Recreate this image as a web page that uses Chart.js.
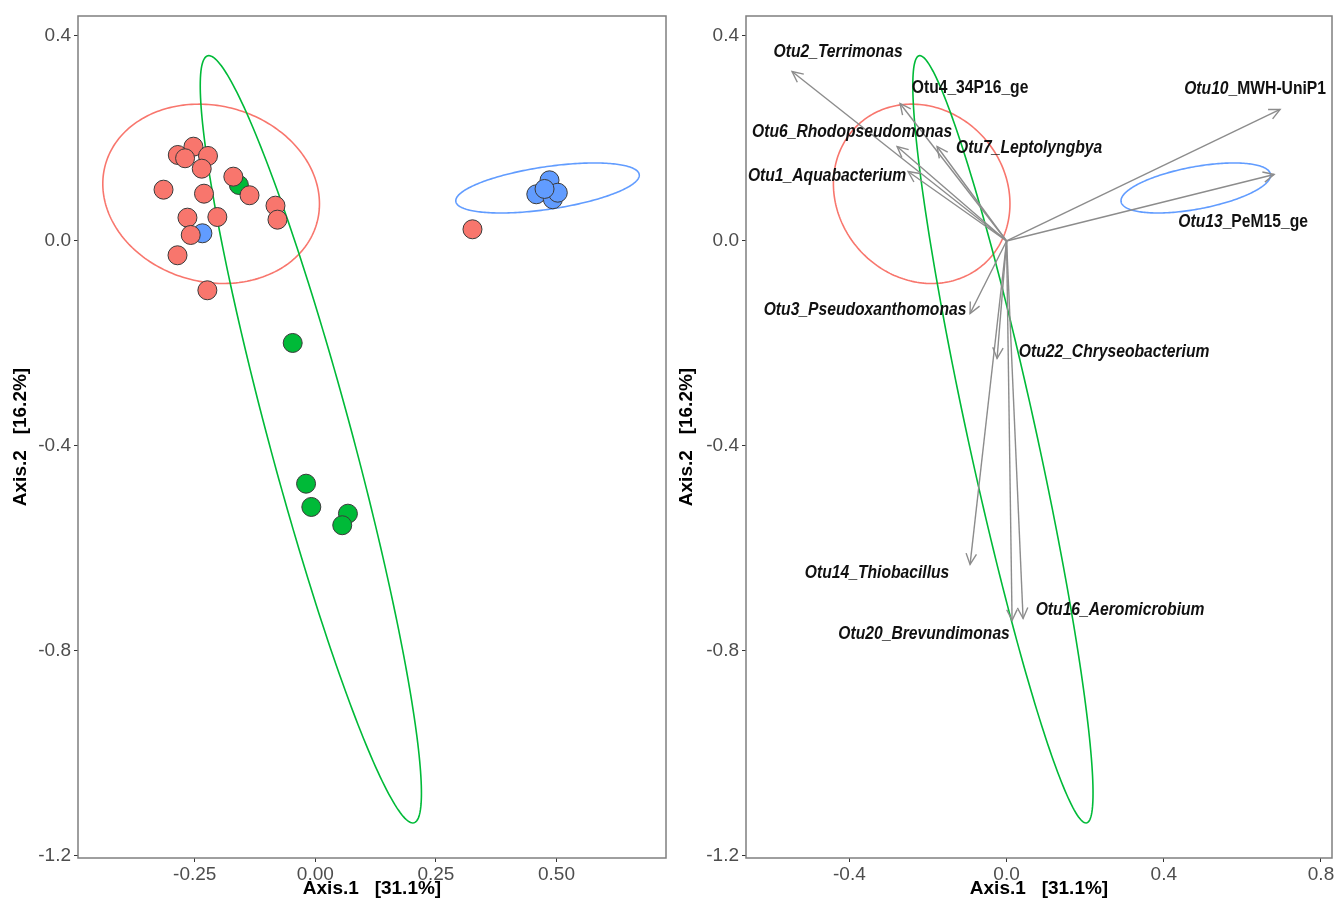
<!DOCTYPE html>
<html><head><meta charset="utf-8">
<script src="https://cdn.jsdelivr.net/npm/chart.js@4.4.1/dist/chart.umd.min.js"></script>
<style>
html,body{margin:0;padding:0;background:#fff;width:1334px;height:900px;overflow:hidden}
canvas{position:absolute;top:0}
#left{left:0}
#right{left:670px}
</style></head><body>
<canvas id="left" width="670" height="900"></canvas>
<canvas id="right" width="664" height="900"></canvas>
<script>
// ---------- data ----------
const groups = ['red', 'green', 'blue'];
const groupColors = ['#F8766D', '#00BA38', '#619CFF'];

const redX = [-0.2851,-0.2527,-0.2700,-0.2225,-0.2355,-0.1700,-0.3147,-0.2308,-0.1364,-0.0826,-0.0785,-0.2651,-0.2031,-0.2583,-0.2857,-0.2238,0.3258];
const redY = [0.1678,0.1840,0.1614,0.1659,0.1411,0.1255,0.1001,0.0923,0.0892,0.0689,0.0416,0.0455,0.0468,0.0117,-0.0279,-0.0962,0.0228];
const greenX = [-0.1585,-0.0469,-0.0192,-0.0083,0.0676,0.0558];
const greenY = [0.1093,-0.1990,-0.4736,-0.5190,-0.5321,-0.5547];
const blueX = [-0.2341,0.4855,0.4581,0.4924,0.5027,0.4752];
const blueY = [0.0150,0.1184,0.0911,0.0814,0.0942,0.1015];

// confidence ellipses (centre and two conjugate semi-axes, data units)
const ellCX = [-0.216, -0.0093, 0.4814];
const ellCY = [0.092, -0.387, 0.1034];
const ellAX = [0.2196, 0.2138, 0.1901];
const ellAY = [-0.0556, -0.7483, 0.0263];
const ellBX = [-0.0471, 0.0828, 0.0064];
const ellBY = [-0.1659, 0.0211, -0.0411];

// biplot arrows
const arrowNames = ['Otu2_Terrimonas','Otu4_34P16_ge','Otu10_MWH-UniP1','Otu6_Rhodopseudomonas','Otu7_Leptolyngbya','Otu1_Aquabacterium','Otu13_PeM15_ge','Otu3_Pseudoxanthomonas','Otu22_Chryseobacterium','Otu14_Thiobacillus','Otu16_Aeromicrobium','Otu20_Brevundimonas'];
const arrowX = [-0.5458,-0.2710,0.6959,-0.2786,-0.1768,-0.2506,0.6807,-0.0929,-0.0242,-0.0929,0.0420,0.0140];
const arrowY = [0.3307,0.2683,0.2566,0.1844,0.1844,0.1356,0.1298,-0.1415,-0.2293,-0.6312,-0.7366,-0.7405];
const labelX = [-0.4288,-0.0929,0.6323,-0.3931,0.0573,-0.4567,0.6018,-0.3601,0.2735,-0.3295,0.2888,-0.2099];
const labelY = [0.3678,0.2976,0.2956,0.2117,0.1805,0.1259,0.0361,-0.1356,-0.2176,-0.6488,-0.7210,-0.7678];
const italicLen = [99, 0, 5, 99, 99, 99, 5, 99, 99, 99, 99, 99];

const leftXTicks = [-0.25, 0, 0.25, 0.5];
const rightXTicks = [-0.4, 0, 0.4, 0.8];
const yTicks = [0.4, 0, -0.4, -0.8, -1.2];
const xTitle = 'Axis.1   [31.1%]';
const yTitle = 'Axis.2   [16.2%]';

// ---------- rendering ----------
const FONT = "'Liberation Sans', Arial, sans-serif";
Chart.defaults.font.family = FONT;

const ellipsePlugin = {
  id: 'ellipses',
  beforeDatasetsDraw(chart) {
    const xs = chart.scales.x, ys = chart.scales.y, ctx = chart.ctx;
    const px = v => xs.getPixelForValue(v), py = v => ys.getPixelForValue(v);
    ctx.save();
    for (let i = 0; i < ellCX.length; i++) {
      const ox = px(ellCX[i]), oy = py(ellCY[i]);
      const ax = px(ellCX[i] + ellAX[i]) - ox, ay = py(ellCY[i] + ellAY[i]) - oy;
      const bx = px(ellCX[i] + ellBX[i]) - ox, by = py(ellCY[i] + ellBY[i]) - oy;
      ctx.beginPath();
      for (let k = 0; k <= 240; k++) {
        const t = k / 240 * 2 * Math.PI;
        const x = ox + ax * Math.cos(t) + bx * Math.sin(t);
        const y = oy + ay * Math.cos(t) + by * Math.sin(t);
        if (k) ctx.lineTo(x, y); else ctx.moveTo(x, y);
      }
      ctx.closePath();
      ctx.strokeStyle = groupColors[i];
      ctx.lineWidth = 1.6;
      ctx.stroke();
    }
    ctx.restore();
  }
};

const framePlugin = {
  id: 'frame',
  afterDraw(chart) {
    const a = chart.chartArea, ctx = chart.ctx;
    ctx.save();
    ctx.strokeStyle = '#7f7f7f';
    ctx.lineWidth = 1.5;
    ctx.strokeRect(a.left, a.top, a.right - a.left, a.bottom - a.top);
    ctx.restore();
  }
};

const arrowPlugin = {
  id: 'arrowheads',
  afterDatasetsDraw(chart) {
    const ctx = chart.ctx;
    ctx.save();
    chart.data.datasets.forEach((ds, i) => {
      if (!ds.isArrow) return;
      const m = chart.getDatasetMeta(i);
      const p0 = m.data[0], p1 = m.data[1];
      const ang = Math.atan2(p1.y - p0.y, p1.x - p0.x);
      const L = 12, h = Math.PI / 7;
      ctx.beginPath();
      ctx.moveTo(p1.x - L * Math.cos(ang - h), p1.y - L * Math.sin(ang - h));
      ctx.lineTo(p1.x, p1.y);
      ctx.lineTo(p1.x - L * Math.cos(ang + h), p1.y - L * Math.sin(ang + h));
      ctx.strokeStyle = ds.borderColor;
      ctx.lineWidth = 1.4;
      ctx.stroke();
    });
    ctx.restore();
  }
};

const labelPlugin = {
  id: 'labels',
  afterDatasetsDraw(chart) {
    const xs = chart.scales.x, ys = chart.scales.y, ctx = chart.ctx;
    const sx = 0.87;
    ctx.save();
    ctx.fillStyle = '#111';
    ctx.textBaseline = 'middle';
    ctx.textAlign = 'left';
    const fI = "italic bold 18px " + FONT, fN = "bold 18px " + FONT;
    arrowNames.forEach((name, i) => {
      const segs = [];
      const n = Math.min(italicLen[i], name.length);
      if (n > 0) segs.push([name.slice(0, n), fI]);
      if (n < name.length) segs.push([name.slice(n), fN]);
      let w = 0;
      segs.forEach(s => { ctx.font = s[1]; w += ctx.measureText(s[0]).width; });
      let x = xs.getPixelForValue(labelX[i]) - w * sx / 2;
      const y = ys.getPixelForValue(labelY[i]);
      segs.forEach(s => {
        ctx.font = s[1];
        ctx.save();
        ctx.translate(x, y);
        ctx.scale(sx, 1);
        ctx.fillText(s[0], 0, 0);
        ctx.restore();
        x += ctx.measureText(s[0]).width * sx;
      });
    });
    ctx.restore();
  }
};

function pts(xa, ya) { return xa.map((v, i) => ({ x: v, y: ya[i] })); }

function makeOptions(xMin, xMax, xTicks, xDec, yWidth, padRight, yTitlePad) {
  return {
    responsive: false,
    devicePixelRatio: 1,
    animation: false,
    layout: { autoPadding: false, padding: { top: 16, right: padRight, left: 0, bottom: 0 } },
    plugins: { legend: { display: false }, tooltip: { enabled: false } },
    scales: {
      x: {
        type: 'linear', min: xMin, max: xMax,
        afterBuildTicks: s => { s.ticks = xTicks.map(v => ({ value: v })); },
        afterFit: s => { s.height = 42; s.paddingLeft = 0; s.paddingRight = 0; },
        ticks: { callback: v => Number(v).toFixed(xDec), color: '#4d4d4d', font: { size: 19 }, padding: 1, maxRotation: 0, autoSkip: false },
        grid: { drawOnChartArea: false, drawTicks: true, tickLength: 4, color: '#333', lineWidth: 1 },
        border: { display: false },
        title: { display: true, text: xTitle, color: '#000', font: { size: 19, weight: 'bold' }, padding: { top: 0, bottom: 0 } }
      },
      y: {
        type: 'linear', min: -1.204, max: 0.439,
        afterBuildTicks: s => { s.ticks = yTicks.map(v => ({ value: v })); },
        afterFit: s => { s.width = yWidth; s.paddingTop = 0; s.paddingBottom = 0; },
        ticks: { callback: v => Number(v).toFixed(1), color: '#4d4d4d', font: { size: 19 }, padding: 3, autoSkip: false },
        grid: { drawOnChartArea: false, drawTicks: true, tickLength: 4, color: '#333', lineWidth: 1 },
        border: { display: false },
        title: { display: true, text: yTitle, color: '#000', font: { size: 19, weight: 'bold' }, padding: { top: yTitlePad, bottom: 0 } }
      }
    }
  };
}

function pointSet(xa, ya, c) {
  return { data: pts(xa, ya), backgroundColor: c, borderColor: '#3a3a3a', borderWidth: 1, pointRadius: 9.5, pointHoverRadius: 9.5 };
}

new Chart(document.getElementById('left'), {
  type: 'scatter',
  data: { datasets: [
    pointSet(redX, redY, groupColors[0]),
    pointSet(greenX, greenY, groupColors[1]),
    pointSet(blueX, blueY, groupColors[2])
  ] },
  options: makeOptions(-0.492, 0.727, leftXTicks, 2, 78, 4, 9),
  plugins: [ellipsePlugin, framePlugin]
});

new Chart(document.getElementById('right'), {
  type: 'scatter',
  data: { datasets: arrowNames.map((n, i) => ({
    label: n, isArrow: true,
    data: [{ x: 0, y: 0 }, { x: arrowX[i], y: arrowY[i] }],
    showLine: true, borderColor: '#8c8c8c', borderWidth: 1.4, pointRadius: 0, pointHoverRadius: 0
  })) },
  options: makeOptions(-0.663, 0.828, rightXTicks, 1, 76, 2, 5),
  plugins: [ellipsePlugin, arrowPlugin, labelPlugin, framePlugin]
});
</script>
</body></html>
